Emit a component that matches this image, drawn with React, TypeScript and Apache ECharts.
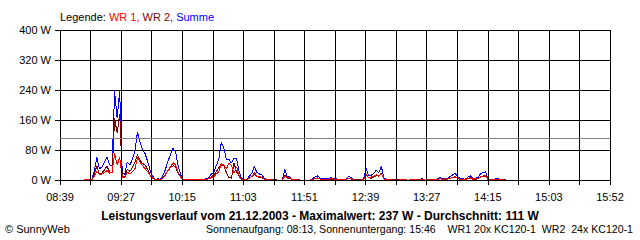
import React, { useEffect, useRef } from "react";
import * as echarts from "echarts";

// Axis ticks (every second grid line carries a label)
const xTickLabels = ["08:39", "09:27", "10:15", "11:03", "11:51", "12:39", "13:27", "14:15", "15:03", "15:52"];
const axisStartMin = 8 * 60 + 39;
const axisEndMin = 15 * 60 + 52;
const gridSteps = 18;

// Samples every 2 minutes from 08:58
const sampleStartMin = 8 * 60 + 58;
const sampleStepMin = 2;

const summe = [
  0, 2, 2, 0, 25, 60, 30, 35, 47, 62, 40, 40, 236, 165, 237, 18, 15, 48, 40, 55,
  78, 128, 100, 82, 70, 50, 25, 10, 2, 3, 2, 12, 28, 50, 68, 84, 75, 38, 14, 1,
  2, 0, 2, 0, 2, 2, 0, 2, 3, 6, 15, 20, 38, 55, 100, 85, 55, 55, 45, 58,
  56, 22, 4, 2, 2, 10, 18, 36, 20, 16, 13, 4, 1, 2, 1, 1, 0, 0, 0, 28,
  9, 9, 2, 2, 1, 0, 0, 0, 0, 0, 4, 8, 11, 4, 4, 5, 4, 6, 5, 4,
  2, 2, 2, 2, 9, 7, 1, 1, 1, 1, 2, 31, 12, 13, 18, 26, 20, 36, 5, 2,
  2, 1, 1, 1, 0, 2, 2, 0, 0, 2, 2, 0, 1, 4, 0, 0, 2, 2, 2, 2,
  7, 4, 5, 4, 9, 13, 18, 9, 4, 3, 2, 7, 11, 4, 5, 6, 16, 20, 22, 3,
  2, 2, 3, 3, 2, 1, 0,
];

const wr1 = [
  0, 1, 1, 0, 10, 22, 15, 16, 20, 25, 18, 20, 72, 40, 60, 8, 7, 20, 17, 22,
  30, 60, 48, 38, 30, 22, 12, 5, 1, 1, 1, 5, 13, 25, 35, 46, 40, 20, 7, 0,
  1, 0, 1, 0, 1, 1, 0, 1, 1, 3, 6, 8, 16, 22, 44, 40, 30, 45, 38, 18,
  35, 12, 2, 1, 1, 5, 9, 20, 10, 9, 7, 2, 0, 1, 0, 0, 0, 0, 0, 10,
  5, 6, 1, 1, 0, 0, 0, 0, 0, 0, 2, 4, 6, 2, 2, 3, 2, 4, 3, 2,
  1, 1, 1, 1, 5, 4, 0, 0, 0, 0, 1, 14, 6, 8, 10, 14, 10, 16, 3, 1,
  1, 0, 0, 0, 0, 1, 1, 0, 0, 1, 1, 0, 0, 2, 0, 0, 1, 1, 1, 1,
  4, 2, 3, 2, 5, 6, 10, 5, 2, 1, 1, 4, 6, 2, 3, 3, 8, 9, 12, 1,
  1, 1, 1, 1, 1, 0, 0,
];

const wr2 = [
  0, 1, 1, 0, 15, 38, 15, 19, 27, 37, 22, 20, 164, 125, 177, 10, 8, 28, 23, 33,
  48, 68, 52, 44, 40, 28, 13, 5, 1, 2, 1, 7, 15, 25, 33, 38, 35, 18, 7, 1,
  1, 0, 1, 0, 1, 1, 0, 1, 2, 3, 9, 12, 22, 33, 40, 38, 20, 6, 5, 45,
  22, 10, 2, 1, 1, 5, 9, 14, 10, 7, 6, 2, 1, 1, 1, 1, 0, 0, 0, 14,
  5, 4, 1, 1, 1, 0, 0, 0, 0, 0, 2, 4, 5, 2, 2, 2, 2, 2, 2, 2,
  1, 1, 1, 1, 4, 3, 1, 1, 1, 1, 1, 15, 6, 5, 8, 12, 10, 18, 2, 1,
  1, 1, 1, 1, 0, 1, 1, 0, 0, 1, 1, 0, 1, 2, 0, 0, 1, 1, 1, 1,
  3, 2, 2, 2, 4, 7, 8, 4, 2, 2, 1, 3, 5, 2, 2, 3, 8, 11, 10, 2,
  1, 1, 2, 2, 1, 1, 0,
];

const average = 111;
const titleText = "Leistungsverlauf vom 21.12.2003 - Maximalwert: 237 W - Durchschnitt: 111 W";
const footerLeft = "© SunnyWeb";
const footerRight =
  "Sonnenaufgang: 08:13, Sonnenuntergang: 15:46\u00a0\u00a0\u00a0\u00a0WR1 20x KC120-1\u00a0\u00a0WR2\u00a0\u00a024x KC120-1";

const FONT = "'Liberation Sans', Arial, sans-serif";

function toPairs(values: number[]) {
  const stepMin = (axisEndMin - axisStartMin) / gridSteps;
  return values.map((v, i) => [
    (sampleStartMin + i * sampleStepMin - axisStartMin) / stepMin,
    v,
  ]);
}

export default function App() {
  const ref = useRef<HTMLDivElement>(null);
  useEffect(() => {
    if (!ref.current) return;
    const chart = echarts.init(ref.current, null, { renderer: "svg" });
    const lineSeries = (name: string, color: string, values: number[], extra: any = {}) => ({
      name,
      type: "line",
      data: toPairs(values),
      showSymbol: false,
      symbol: "none",
      lineStyle: { color, width: 1 },
      itemStyle: { color },
      ...extra,
    });
    chart.setOption({
      animation: false,
      backgroundColor: "#ffffff",
      textStyle: { fontFamily: FONT },
      grid: { left: 60, right: 30, top: 30, bottom: 60, containLabel: false },
      xAxis: {
        type: "value",
        min: 0,
        max: gridSteps,
        interval: 1,
        z: 5,
        axisLine: { show: true, lineStyle: { color: "#000", width: 1 } },
        axisTick: { show: true, length: 5, lineStyle: { color: "#000", width: 1 } },
        splitLine: { show: true, lineStyle: { color: "#000", width: 1 } },
        axisLabel: {
          color: "#000",
          fontFamily: FONT,
          fontSize: 11,
          margin: 11,
          showMinLabel: true,
          showMaxLabel: true,
          formatter: (v: number) => (Math.round(v) % 2 === 0 ? xTickLabels[Math.round(v) / 2] : ""),
        },
      },
      yAxis: {
        type: "value",
        min: 0,
        max: 400,
        interval: 80,
        axisLine: { show: true, lineStyle: { color: "#000", width: 1 } },
        axisTick: { show: true, length: 5, lineStyle: { color: "#000", width: 1 } },
        splitLine: { show: true, lineStyle: { color: "#000", width: 1 } },
        axisLabel: {
          color: "#000",
          fontFamily: FONT,
          fontSize: 11,
          margin: 9,
          formatter: (v: number) => `${v} W`,
        },
      },
      series: [
        lineSeries("Summe", "#0000ff", summe, {
          markLine: {
            silent: true,
            symbol: "none",
            label: { show: false },
            lineStyle: { color: "#808080", width: 1, type: "solid" },
            data: [{ yAxis: average }],
          },
        }),
        lineSeries("WR 2", "#800000", wr2),
        lineSeries("WR 1", "#ff0000", wr1),
      ],
      graphic: [
        {
          type: "text",
          x: 60,
          y: 17,
          style: {
            text: "{k|Legende: }{a|WR 1, }{b|WR 2, }{c|Summe}",
            verticalAlign: "middle",
            fontFamily: FONT,
            fontSize: 11,
            rich: {
              k: { fill: "#000", fontFamily: FONT, fontSize: 11 },
              a: { fill: "#ff0000", fontFamily: FONT, fontSize: 11 },
              b: { fill: "#800000", fontFamily: FONT, fontSize: 11 },
              c: { fill: "#0000ff", fontFamily: FONT, fontSize: 11 },
            },
          },
        },
        {
          type: "text",
          x: 320,
          y: 216,
          style: {
            text: titleText,
            fill: "#000",
            align: "center",
            verticalAlign: "middle",
            fontFamily: FONT,
            fontSize: 12,
            fontWeight: "bold",
          },
        },
        {
          type: "text",
          x: 5,
          y: 229,
          style: {
            text: footerLeft,
            fill: "#000",
            verticalAlign: "middle",
            fontFamily: FONT,
            fontSize: 11,
          },
        },
        {
          type: "text",
          x: 633,
          y: 229,
          style: {
            text: footerRight,
            fill: "#000",
            align: "right",
            verticalAlign: "middle",
            fontFamily: FONT,
            fontSize: 10.6,
          },
        },
      ],
    });
    return () => chart.dispose();
  }, []);
  return (
    <div
      ref={ref}
      style={{ width: 640, height: 240, position: "absolute", left: 0, top: 0, shapeRendering: "crispEdges" } as any}
    />
  );
}
